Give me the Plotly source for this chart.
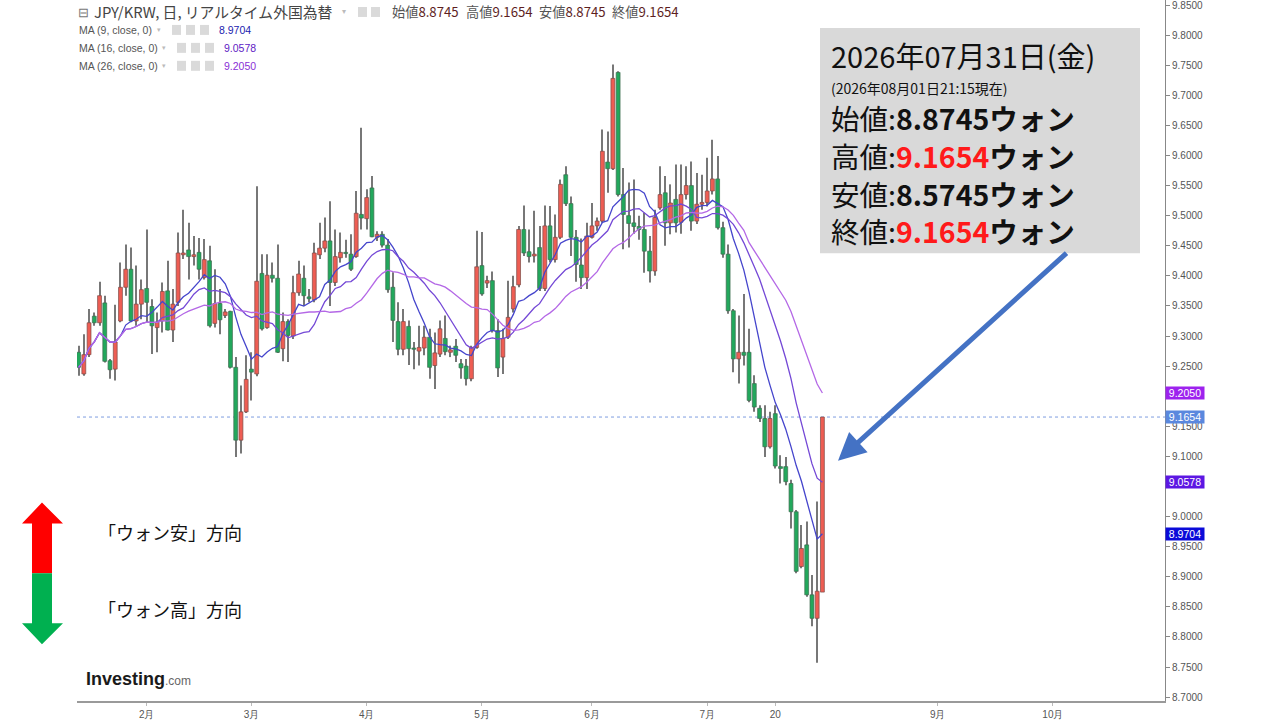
import plotly.graph_objects as go
import pandas as pd

# ---------------- data ----------------
START_DATE = "2026-01-14"          # first trading day shown
AXIS_DAYS = 208                    # business-day slots on the x axis (incl. empty future)

OPEN = [
    9.273, 9.237, 9.269, 9.333, 9.322, 9.355, 9.259, 9.245, 9.325, 9.381,
    9.411, 9.325, 9.353, 9.379, 9.349, 9.314, 9.325, 9.375, 9.310, 9.356,
    9.435, 9.443, 9.432, 9.439, 9.397, 9.425, 9.321, 9.354, 9.334, 9.341,
    9.248, 9.127, 9.174, 9.245, 9.237, 9.404, 9.314, 9.401, 9.396, 9.279,
    9.324, 9.300, 9.372, 9.396, 9.365, 9.360, 9.435, 9.446, 9.458, 9.389,
    9.430, 9.439, 9.436, 9.432, 9.502, 9.495, 9.546, 9.464, 9.469, 9.451,
    9.381, 9.324, 9.278, 9.316, 9.280, 9.275, 9.280, 9.298, 9.251, 9.270,
    9.296, 9.273, 9.283, 9.254, 9.250, 9.229, 9.281, 9.417, 9.388, 9.392,
    9.309, 9.265, 9.298, 9.345, 9.385, 9.477, 9.440, 9.433, 9.447, 9.379,
    9.483, 9.427, 9.464, 9.568, 9.520, 9.464, 9.418, 9.397, 9.464, 9.483,
    9.491, 9.589, 9.578, 9.738, 9.535, 9.500, 9.488, 9.482, 9.477, 9.441,
    9.408, 9.513, 9.538, 9.488, 9.527, 9.489, 9.535, 9.550, 9.491, 9.519,
    9.522, 9.541, 9.561, 9.480, 9.436, 9.342, 9.262, 9.273, 9.273, 9.221,
    9.180, 9.163, 9.116, 9.171, 9.083, 9.083, 9.055, 9.008, 8.917, 8.953,
    8.870, 8.831, 8.8745,
]
HIGH = [
    9.284, 9.303, 9.345, 9.339, 9.390, 9.367, 9.262, 9.352, 9.422, 9.452,
    9.447, 9.417, 9.394, 9.477, 9.361, 9.339, 9.389, 9.425, 9.378, 9.472,
    9.510, 9.488, 9.466, 9.463, 9.461, 9.450, 9.411, 9.378, 9.345, 9.342,
    9.265, 9.218, 9.268, 9.273, 9.549, 9.436, 9.436, 9.422, 9.452, 9.339,
    9.328, 9.400, 9.425, 9.417, 9.378, 9.455, 9.488, 9.497, 9.524, 9.477,
    9.472, 9.460, 9.469, 9.541, 9.646, 9.544, 9.566, 9.474, 9.474, 9.461,
    9.406, 9.356, 9.345, 9.326, 9.290, 9.317, 9.317, 9.312, 9.306, 9.326,
    9.334, 9.284, 9.295, 9.262, 9.262, 9.284, 9.475, 9.473, 9.400, 9.407,
    9.328, 9.312, 9.392, 9.400, 9.483, 9.517, 9.477, 9.508, 9.483, 9.517,
    9.516, 9.502, 9.560, 9.582, 9.532, 9.476, 9.462, 9.488, 9.521, 9.497,
    9.643, 9.640, 9.751, 9.740, 9.579, 9.555, 9.560, 9.500, 9.505, 9.466,
    9.510, 9.582, 9.566, 9.552, 9.585, 9.585, 9.582, 9.590, 9.571, 9.568,
    9.596, 9.626, 9.599, 9.490, 9.452, 9.345, 9.334, 9.370, 9.312, 9.235,
    9.185, 9.185, 9.174, 9.185, 9.102, 9.099, 9.061, 9.011, 8.986, 8.992,
    8.903, 9.025, 9.1654,
]
LOW = [
    9.234, 9.234, 9.265, 9.317, 9.317, 9.256, 9.229, 9.226, 9.323, 9.367,
    9.323, 9.317, 9.328, 9.323, 9.270, 9.273, 9.306, 9.309, 9.290, 9.350,
    9.428, 9.394, 9.417, 9.394, 9.394, 9.314, 9.314, 9.303, 9.330, 9.246,
    9.099, 9.105, 9.172, 9.193, 9.233, 9.309, 9.312, 9.389, 9.272, 9.258,
    9.257, 9.295, 9.367, 9.350, 9.356, 9.356, 9.428, 9.439, 9.350, 9.383,
    9.422, 9.430, 9.408, 9.430, 9.477, 9.477, 9.464, 9.458, 9.447, 9.372,
    9.290, 9.268, 9.268, 9.252, 9.245, 9.251, 9.268, 9.229, 9.212, 9.265,
    9.268, 9.265, 9.257, 9.229, 9.218, 9.225, 9.279, 9.367, 9.380, 9.306,
    9.232, 9.237, 9.295, 9.339, 9.381, 9.433, 9.422, 9.422, 9.375, 9.375,
    9.422, 9.422, 9.461, 9.516, 9.433, 9.390, 9.378, 9.378, 9.462, 9.475,
    9.488, 9.538, 9.576, 9.532, 9.444, 9.447, 9.470, 9.460, 9.405, 9.389,
    9.400, 9.510, 9.450, 9.469, 9.472, 9.470, 9.527, 9.475, 9.486, 9.510,
    9.515, 9.535, 9.477, 9.430, 9.337, 9.240, 9.221, 9.251, 9.190, 9.174,
    9.157, 9.099, 9.113, 9.080, 9.055, 9.052, 8.980, 8.906, 8.914, 8.867,
    8.818, 8.757, 8.8745,
]
CLOSE = [
    9.248, 9.269, 9.322, 9.322, 9.367, 9.258, 9.244, 9.290, 9.381, 9.411,
    9.325, 9.353, 9.377, 9.356, 9.317, 9.323, 9.374, 9.310, 9.353, 9.438,
    9.438, 9.432, 9.435, 9.411, 9.427, 9.317, 9.354, 9.327, 9.340, 9.248,
    9.127, 9.174, 9.228, 9.240, 9.391, 9.312, 9.401, 9.396, 9.273, 9.324,
    9.301, 9.372, 9.403, 9.367, 9.362, 9.438, 9.446, 9.458, 9.389, 9.432,
    9.439, 9.437, 9.411, 9.504, 9.496, 9.530, 9.465, 9.469, 9.451, 9.377,
    9.326, 9.278, 9.324, 9.279, 9.278, 9.281, 9.298, 9.248, 9.272, 9.312,
    9.274, 9.277, 9.268, 9.247, 9.229, 9.281, 9.415, 9.370, 9.392, 9.309,
    9.247, 9.296, 9.331, 9.382, 9.477, 9.438, 9.432, 9.436, 9.379, 9.483,
    9.427, 9.464, 9.552, 9.520, 9.464, 9.419, 9.397, 9.466, 9.483, 9.491,
    9.607, 9.578, 9.728, 9.535, 9.502, 9.487, 9.482, 9.477, 9.441, 9.408,
    9.497, 9.535, 9.488, 9.521, 9.488, 9.535, 9.550, 9.491, 9.519, 9.522,
    9.541, 9.561, 9.480, 9.436, 9.342, 9.262, 9.273, 9.268, 9.193, 9.182,
    9.163, 9.116, 9.163, 9.084, 9.080, 9.058, 9.008, 8.909, 8.947, 8.870,
    8.831, 8.876, 9.1654,
]

MA_PERIODS = [9, 16, 26]
MA_LAST = [8.9704, 9.0578, 9.2050]
LAST_CLOSE = 9.1654

Y_TICK_MIN, Y_TICK_MAX, Y_TICK_STEP = 8.70, 9.85, 0.05
Y_TICKS_HIDDEN = [9.20, 9.05]      # labels covered by the value tags in the reference

TICK_DATES = ["2026-02-02", "2026-03-02", "2026-04-01", "2026-05-01", "2026-06-01",
              "2026-07-01", "2026-07-20", "2026-09-01", "2026-10-01"]
TICK_TEXT = ["2月", "3月", "4月", "5月", "6月", "7月", "20", "9月", "10月"]

HEADER_TITLE = "JPY/KRW, 日, リアルタイム外国為替"
HEADER_ITEMS = [("始値", "8.8745"), ("高値", "9.1654"), ("安値", "8.8745"), ("終値", "9.1654")]
MA_LABELS = ["MA (9, close, 0)", "MA (16, close, 0)", "MA (26, close, 0)"]

BOX_TITLE = "2026年07月31日(金)"
BOX_SUB = "(2026年08月01日21:15現在)"
BOX_ROWS = [("始値:", "8.8745", False), ("高値:", "9.1654", True),
            ("安値:", "8.5745", False), ("終値:", "9.1654", True)]
UNIT = "ウォン"

# ---------------- layout geometry (pixels) ----------------
W, H = 1280, 720
L, R, T, B = 77, 1165, 0, 703

def px(x):
    return (x - L) / (R - L)

def py(y):
    return (B - y) / (B - T)

JP = "Noto Sans CJK JP"
AR = "Liberation Sans, Arial, sans-serif"

dates = pd.bdate_range(START_DATE, periods=AXIS_DAYS)
xs = list(range(len(CLOSE)))
tickvals = [int(dates.get_loc(pd.Timestamp(d))) for d in TICK_DATES]

n_yt = int(round((Y_TICK_MAX - Y_TICK_MIN) / Y_TICK_STEP)) + 1
ytickvals = [round(Y_TICK_MIN + k * Y_TICK_STEP, 4) for k in range(n_yt)]
yticktext = ["" if any(abs(v - h) < 1e-6 for h in Y_TICKS_HIDDEN) else f"{v:.4f}" for v in ytickvals]

UP_FILL, DN_FILL = "#ee5d53", "#22a85c"
UP_EDGE, DN_EDGE = "#7c4a46", "#3f6b50"
MA_COLORS = ["#4545cc", "#7448d6", "#b468e6"]
MA_TAG_BG = ["#0b0bd9", "#5c17e3", "#9d22ee"]
MA_VAL_COLORS = ["#1c1cae", "#6021c4", "#8a2fd6"]

up = [c >= o for o, c in zip(OPEN, CLOSE)]
body_base = [min(o, c) for o, c in zip(OPEN, CLOSE)]
body_h = [max(abs(c - o), 0.0016) for o, c in zip(OPEN, CLOSE)]

fig = go.Figure()
# wicks
fig.add_trace(go.Bar(x=xs, base=LOW, y=[h - l for h, l in zip(HIGH, LOW)], width=0.2,
                     marker=dict(color="#777777", line=dict(width=0)),
                     hoverinfo="skip", showlegend=False))
# bodies
fig.add_trace(go.Bar(x=xs, base=body_base, y=body_h, width=0.74,
                     marker=dict(color=[UP_FILL if u else DN_FILL for u in up],
                                 line=dict(color=[UP_EDGE if u else DN_EDGE for u in up], width=0.7)),
                     hoverinfo="skip", showlegend=False))
close_s = pd.Series(CLOSE)
for n, col in zip(MA_PERIODS, MA_COLORS):
    ma = close_s.rolling(n, min_periods=1).mean()
    fig.add_trace(go.Scatter(x=xs, y=ma, mode="lines", line=dict(color=col, width=1.3),
                             hoverinfo="skip", showlegend=False))

shapes = []
ann = []

# dotted last-price line
shapes.append(dict(type="line", xref="paper", x0=0, x1=1, yref="y", y0=LAST_CLOSE, y1=LAST_CLOSE,
                   line=dict(color="#7f9de0", width=1, dash="dot"), layer="below"))

# right-axis value tags
tags = [(MA_LAST[2], MA_TAG_BG[2]), (LAST_CLOSE, "#5a88de"), (MA_LAST[1], MA_TAG_BG[1]), (MA_LAST[0], MA_TAG_BG[0])]
for v, bg in tags:
    ann.append(dict(xref="paper", x=1.0, yref="y", y=v, xanchor="left", yanchor="middle",
                    text=f"{v:.4f}", showarrow=False, bgcolor=bg, borderpad=0, width=38, height=12,
                    align="center", font=dict(family=AR, size=10.5, color="white")))

# header line
ann.append(dict(xref="paper", yref="paper", x=px(76), y=py(12), xanchor="left", yanchor="middle",
                text="⊟", showarrow=False, font=dict(family=JP, size=13, color="#777")))
ann.append(dict(xref="paper", yref="paper", x=px(92), y=py(12), xanchor="left", yanchor="middle",
                text=HEADER_TITLE, showarrow=False, font=dict(family=JP, size=14.8, color="#444")))
ann.append(dict(xref="paper", yref="paper", x=px(340), y=py(11), xanchor="left", yanchor="middle",
                text="▾", showarrow=False, font=dict(family=JP, size=8, color="#bbb")))
for x0 in (358, 371):
    shapes.append(dict(type="rect", xref="paper", yref="paper", x0=px(x0), x1=px(x0 + 9),
                       y0=py(17), y1=py(7), fillcolor="#dadada", line=dict(width=0)))
hx = [390, 464, 537, 610]
for x0, (lab, val) in zip(hx, HEADER_ITEMS):
    ann.append(dict(xref="paper", yref="paper", x=px(x0), y=py(12), xanchor="left", yanchor="middle",
                    text=f"{lab}<span style='color:#5e1f1f'>{val}</span>", showarrow=False,
                    font=dict(family=JP, size=13.2, color="#555")))

# MA legend rows
rows_y = [30, 48, 66]
for i, (lab, yv) in enumerate(zip(MA_LABELS, rows_y)):
    off = 0 if i == 0 else 5
    ann.append(dict(xref="paper", yref="paper", x=px(77), y=py(yv), xanchor="left", yanchor="middle",
                    text=lab, showarrow=False, font=dict(family=AR, size=10.5, color="#555")))
    ann.append(dict(xref="paper", yref="paper", x=px(155 + off), y=py(yv - 1), xanchor="left", yanchor="middle",
                    text="▾", showarrow=False, font=dict(family=JP, size=7, color="#bbb")))
    for k in range(3):
        xb = 172 + off + 14 * k
        shapes.append(dict(type="rect", xref="paper", yref="paper", x0=px(xb), x1=px(xb + 9),
                           y0=py(yv + 5), y1=py(yv - 5), fillcolor="#dadada", line=dict(width=0)))
    ann.append(dict(xref="paper", yref="paper", x=px(217 + off), y=py(yv), xanchor="left", yanchor="middle",
                    text=f"{MA_LAST[i]:.4f}", showarrow=False,
                    font=dict(family=AR, size=10.5, color=MA_VAL_COLORS[i])))

# info box
shapes.append(dict(type="rect", xref="paper", yref="paper", x0=px(820), x1=px(1140),
                   y0=py(254), y1=py(28), fillcolor="#d9d9d9", line=dict(width=0)))
ann.append(dict(xref="paper", yref="paper", x=px(829), y=py(55), xanchor="left", yanchor="middle",
                text=BOX_TITLE, showarrow=False, font=dict(family=JP, size=29, color="#111")))
ann.append(dict(xref="paper", yref="paper", x=px(829), y=py(88), xanchor="left", yanchor="middle",
                text=BOX_SUB, showarrow=False, font=dict(family=JP, size=14, color="#111")))
row_y = [118, 156, 194, 231]
for (lab, val, red), yv in zip(BOX_ROWS, row_y):
    vc = "#ff1a1a" if red else "#111"
    ann.append(dict(xref="paper", yref="paper", x=px(829), y=py(yv), xanchor="left", yanchor="middle",
                    text=f"{lab}<span style='color:{vc}'><b>{val}</b></span><b>{UNIT}</b>", showarrow=False,
                    font=dict(family=JP, size=28.5, color="#111")))

# blue pointer arrow
ann.append(dict(xref="paper", yref="paper", x=px(838), y=py(462), ax=1068 - 838, ay=253 - 462,
                text="", showarrow=True, arrowhead=2, arrowsize=1.1, arrowwidth=5, arrowcolor="#4472c4"))

# left direction arrows
def path(pts):
    return "M " + " L ".join(f"{px(a):.5f},{py(b):.5f}" for a, b in pts) + " Z"

shapes.append(dict(type="path", xref="paper", yref="paper", fillcolor="#ff0000", line=dict(width=0),
                   path=path([(42, 504), (63, 525), (52, 525), (52, 575), (32, 575), (32, 525), (22, 525)])))
shapes.append(dict(type="path", xref="paper", yref="paper", fillcolor="#00b050", line=dict(width=0),
                   path=path([(32, 575), (52, 575), (52, 625), (63, 625), (42, 646), (22, 625), (32, 625)])))
ann.append(dict(xref="paper", yref="paper", x=px(96), y=py(534), xanchor="left", yanchor="middle",
                text="「ウォン安」方向", showarrow=False, font=dict(family=JP, size=18, color="#111")))
ann.append(dict(xref="paper", yref="paper", x=px(96), y=py(611), xanchor="left", yanchor="middle",
                text="「ウォン高」方向", showarrow=False, font=dict(family=JP, size=18, color="#111")))

# logo
ann.append(dict(xref="paper", yref="paper", x=px(84), y=py(681), xanchor="left", yanchor="middle",
                text="<b>Investing</b><span style='font-size:12px;color:#666'>.com</span>", showarrow=False,
                font=dict(family=AR, size=18, color="#1a1a1a")))

fig.update_layout(
    width=W, height=H,
    margin=dict(l=L, r=W - R, t=T, b=H - B),
    paper_bgcolor="white", plot_bgcolor="white",
    showlegend=False, barmode="overlay",
    font=dict(family=JP),
    shapes=shapes, annotations=ann,
    xaxis=dict(range=[-0.3, 207.4], showgrid=False, zeroline=False,
               showline=True, linecolor="#9a9a9a", linewidth=1.5,
               tickmode="array", tickvals=tickvals, ticktext=TICK_TEXT,
               ticks="outside", ticklen=3, tickcolor="#bbb",
               tickfont=dict(family=AR, size=10, color="#555")),
    yaxis=dict(side="right", range=[8.6936, 9.8583], showgrid=False, zeroline=False,
               tickmode="array", tickvals=ytickvals, ticktext=yticktext, ticklabeloverflow="allow",
               ticks="outside", ticklen=4, tickcolor="#888",
               showline=True, linecolor="#888", linewidth=1,
               tickfont=dict(family=AR, size=10, color="#555")),
)

fig.write_html("out.html", config={"displayModeBar": False},
               post_script="document.body.style.margin='0';document.body.style.overflow='hidden';")
